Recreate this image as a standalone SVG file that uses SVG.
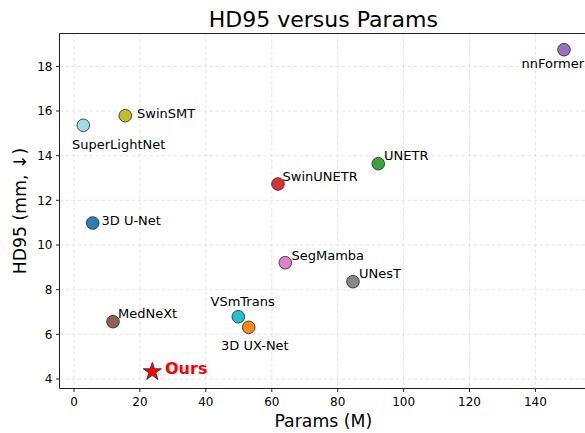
<svg xmlns="http://www.w3.org/2000/svg" width="585" height="433" viewBox="0 0 585 433">
  <style>
    text { font-family: "DejaVu Sans", "Liberation Sans", sans-serif; fill: #000; }
    .tick { font-size: 12px; }
    .lbl { font-size: 13px; }
    .grid line { stroke: #dcdcdc; stroke-width: 0.8; stroke-dasharray: 3.5 2.5; }
    .spine { stroke: #222; stroke-width: 1; fill: none; }
    .tk line { stroke: #222; stroke-width: 1; }
    .pt { stroke: #333; stroke-width: 0.9; fill-opacity: 0.95; }
  </style>
  <defs>
    <polygon id="star" points="0,-9.5 2.13,-2.94 9.04,-2.94 3.45,1.12 5.58,7.69 0,3.63 -5.58,7.69 -3.45,1.12 -9.04,-2.94 -2.13,-2.94"/>
  </defs>
  <rect width="585" height="433" fill="#fff"/>

  <!-- grid -->
  <g class="grid">
    <line x1="74" y1="33.5" x2="74" y2="388.5"/>
    <line x1="139.9" y1="33.5" x2="139.9" y2="388.5"/>
    <line x1="205.8" y1="33.5" x2="205.8" y2="388.5"/>
    <line x1="271.8" y1="33.5" x2="271.8" y2="388.5"/>
    <line x1="337.7" y1="33.5" x2="337.7" y2="388.5"/>
    <line x1="403.6" y1="33.5" x2="403.6" y2="388.5"/>
    <line x1="469.5" y1="33.5" x2="469.5" y2="388.5"/>
    <line x1="535.4" y1="33.5" x2="535.4" y2="388.5"/>
    <line x1="59.5" y1="379" x2="585" y2="379"/>
    <line x1="59.5" y1="334.3" x2="585" y2="334.3"/>
    <line x1="59.5" y1="289.7" x2="585" y2="289.7"/>
    <line x1="59.5" y1="245" x2="585" y2="245"/>
    <line x1="59.5" y1="200.3" x2="585" y2="200.3"/>
    <line x1="59.5" y1="155.7" x2="585" y2="155.7"/>
    <line x1="59.5" y1="111" x2="585" y2="111"/>
    <line x1="59.5" y1="66.4" x2="585" y2="66.4"/>
  </g>

  <!-- axes frame -->
  <path class="spine" d="M585,33.5 H59.5 V388.5 H585"/>

  <!-- tick marks -->
  <g class="tk">
    <line x1="74" y1="388.5" x2="74" y2="392"/>
    <line x1="139.9" y1="388.5" x2="139.9" y2="392"/>
    <line x1="205.8" y1="388.5" x2="205.8" y2="392"/>
    <line x1="271.8" y1="388.5" x2="271.8" y2="392"/>
    <line x1="337.7" y1="388.5" x2="337.7" y2="392"/>
    <line x1="403.6" y1="388.5" x2="403.6" y2="392"/>
    <line x1="469.5" y1="388.5" x2="469.5" y2="392"/>
    <line x1="535.4" y1="388.5" x2="535.4" y2="392"/>
    <line x1="56" y1="379" x2="59.5" y2="379"/>
    <line x1="56" y1="334.3" x2="59.5" y2="334.3"/>
    <line x1="56" y1="289.7" x2="59.5" y2="289.7"/>
    <line x1="56" y1="245" x2="59.5" y2="245"/>
    <line x1="56" y1="200.3" x2="59.5" y2="200.3"/>
    <line x1="56" y1="155.7" x2="59.5" y2="155.7"/>
    <line x1="56" y1="111" x2="59.5" y2="111"/>
    <line x1="56" y1="66.4" x2="59.5" y2="66.4"/>
  </g>

  <!-- tick labels -->
  <g class="tick" text-anchor="middle">
    <text x="74" y="406">0</text>
    <text x="139.9" y="406">20</text>
    <text x="205.8" y="406">40</text>
    <text x="271.8" y="406">60</text>
    <text x="337.7" y="406">80</text>
    <text x="403.6" y="406">100</text>
    <text x="469.5" y="406">120</text>
    <text x="535.4" y="406">140</text>
  </g>
  <g class="tick" text-anchor="end">
    <text x="52.5" y="383.4">4</text>
    <text x="52.5" y="338.7">6</text>
    <text x="52.5" y="294.1">8</text>
    <text x="52.5" y="249.4">10</text>
    <text x="52.5" y="204.7">12</text>
    <text x="52.5" y="160.1">14</text>
    <text x="52.5" y="115.4">16</text>
    <text x="52.5" y="70.8">18</text>
  </g>

  <!-- titles -->
  <text x="323.3" y="27" font-size="22" text-anchor="middle">HD95 versus Params</text>
  <text x="323.3" y="427" font-size="17.3" text-anchor="middle">Params (M)</text>
  <text transform="translate(26,211) rotate(-90)" font-size="17.3" text-anchor="middle">HD95 (mm, ↓)</text>

  <!-- data points -->
  <g id="superlightnet">
    <circle class="pt" cx="83.3" cy="125.3" r="6.3" fill="#9edae5"/>
    <text class="lbl" x="72" y="148.5">SuperLightNet</text>
  </g>
  <g id="swinsmt">
    <circle class="pt" cx="125.3" cy="115.7" r="6.3" fill="#bcbd22"/>
    <text class="lbl" x="137" y="118">SwinSMT</text>
  </g>
  <g id="nnformer">
    <circle class="pt" cx="564" cy="49.7" r="6.3" fill="#9467bd"/>
    <text class="lbl" x="521.5" y="68">nnFormer</text>
  </g>
  <g id="unet3d">
    <circle class="pt" cx="92.7" cy="223" r="6.3" fill="#1f77b4"/>
    <text class="lbl" x="101.5" y="225">3D U-Net</text>
  </g>
  <g id="swinunetr">
    <circle class="pt" cx="278" cy="184" r="6.3" fill="#d62728"/>
    <text class="lbl" x="282.5" y="180.5">SwinUNETR</text>
  </g>
  <g id="unetr">
    <circle class="pt" cx="378.3" cy="163.7" r="6.3" fill="#2ca02c"/>
    <text class="lbl" x="384" y="159.5">UNETR</text>
  </g>
  <g id="segmamba">
    <circle class="pt" cx="285.3" cy="262.7" r="6.3" fill="#e377c2"/>
    <text class="lbl" x="291.5" y="259.5">SegMamba</text>
  </g>
  <g id="unest">
    <circle class="pt" cx="353" cy="281.7" r="6.3" fill="#7f7f7f"/>
    <text class="lbl" x="359" y="278">UNesT</text>
  </g>
  <g id="mednext">
    <circle class="pt" cx="113" cy="321.7" r="6.3" fill="#8c564b"/>
    <text class="lbl" x="118" y="318">MedNeXt</text>
  </g>
  <g id="vsmtrans">
    <circle class="pt" cx="238.3" cy="316.7" r="6.3" fill="#17becf"/>
    <text class="lbl" x="210.5" y="306">VSmTrans</text>
  </g>
  <g id="uxnet3d">
    <circle class="pt" cx="248.7" cy="327.3" r="6.3" fill="#ff7f0e"/>
    <text class="lbl" x="221" y="349.5">3D UX-Net</text>
  </g>
  <g id="ours">
    <use href="#star" transform="translate(152.3,371.7)" fill="#ff0000" stroke="#333" stroke-width="0.9"/>
    <text x="165" y="374" font-size="16" font-weight="bold" style="fill:#ff0000">Ours</text>
  </g>
</svg>
